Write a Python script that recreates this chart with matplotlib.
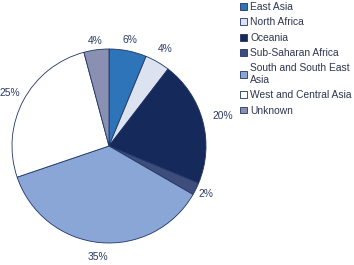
import matplotlib
matplotlib.use("Agg")
import matplotlib.pyplot as plt
import matplotlib.patches as mpatches
import numpy as np

REGIONS = [
    "East Asia",
    "North Africa",
    "Oceania",
    "Sub-Saharan Africa",
    "South and South East\nAsia",
    "West and Central Asia",
    "Unknown",
]
SHARES = [6, 4, 20, 2, 35, 25, 4]
COLORS = ["#2e74b8", "#dde2f0", "#15295a", "#3e4d7c", "#8aa6d6", "#ffffff", "#8a90b2"]
LABEL_DIST = [1.11, 1.15, 1.21, 1.12, 1.15, 1.155, 1.09]

EDGE = "#1f3466"
TEXT = "#2c3a66"
FONT_SIZE = 7.4

plt.rcParams["font.family"] = ["Liberation Sans", "DejaVu Sans"]

fig = plt.figure(figsize=(3.54, 2.65), dpi=100)
fig.patch.set_facecolor("white")

# pie axes: centre ~(109,146) px, radius ~97 px
ax = fig.add_axes([12 / 354, 22 / 265, 194 / 354, 194 / 265])
wedges, _ = ax.pie(
    SHARES,
    colors=COLORS,
    startangle=90,
    counterclock=False,
    radius=1,
    wedgeprops=dict(edgecolor=EDGE, linewidth=0.6),
)
ax.set_xlim(-1, 1)
ax.set_ylim(-1, 1)
ax.set_aspect("equal")
ax.axis("off")

for wedge, share, dist in zip(wedges, SHARES, LABEL_DIST):
    mid = np.deg2rad((wedge.theta1 + wedge.theta2) / 2)
    ax.text(
        dist * np.cos(mid),
        dist * np.sin(mid),
        f"{share}%",
        ha="center",
        va="center",
        fontsize=FONT_SIZE,
        color=TEXT,
        clip_on=False,
    )

handles = [
    mpatches.Patch(facecolor=c, edgecolor=EDGE, linewidth=0.6, label=r)
    for c, r in zip(COLORS, REGIONS)
]
fig.legend(
    handles=handles,
    loc="upper left",
    bbox_to_anchor=(240 / 354, 1 - 2 / 265),
    frameon=False,
    fontsize=FONT_SIZE,
    handlelength=0.65,
    handleheight=0.65,
    handletextpad=0.35,
    labelspacing=0.52,
    borderaxespad=0,
    borderpad=0,
    labelcolor="#2f3650",
)

fig.savefig("out.png", dpi=100)
